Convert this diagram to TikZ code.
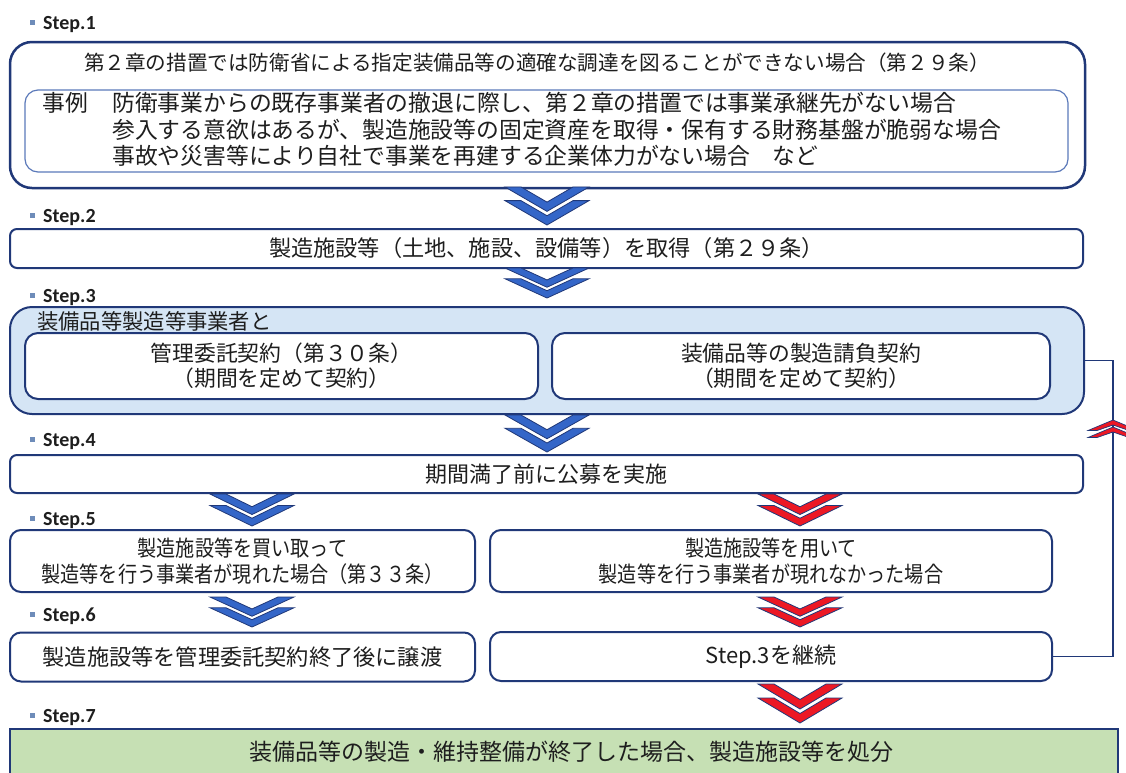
\documentclass[tikz,border=0pt]{standalone}
\usepackage{fontspec}
\newfontfamily\jp{Noto Sans CJK JP}
\newfontfamily\jpn[FakeStretch=0.87]{Noto Sans CJK JP}
\newfontfamily\lat{Carlito}
\definecolor{navy}{RGB}{32,56,120}
\definecolor{lblue}{RGB}{92,122,186}
\definecolor{chevblue}{RGB}{52,102,200}
\definecolor{chevred}{RGB}{236,24,36}
\definecolor{fillblue}{RGB}{213,229,245}
\definecolor{fillgreen}{RGB}{198,224,180}
\definecolor{txt}{RGB}{30,30,30}
\definecolor{bulletc}{RGB}{110,140,185}
\newcommand\fs[2]{\fontsize{#1}{#2}\selectfont}
\tikzset{
  box/.style={draw=navy, line width=2pt, fill=white, rounded corners=#1, inner sep=0pt, text=txt, align=center},
  lbl/.style={inner sep=0pt, text=txt},
  chevshape/.style={draw=navy, line width=0.8pt, fill=#1, line join=miter},
}
\newcommand\steplabel[2]{%
  \node[fill=bulletc, minimum size=5pt, inner sep=0pt] (b#1) at (32,#2-6.5) {};
  \node[anchor=base west, inner sep=0pt, text=txt, font=\lat\bfseries\fs{20}{24}] (l#1) at (43,#2) {Step.#1};}
% x, ytop, colour, total height
\newcommand\chev[4]{%
  \begin{scope}[shift={(#1,#2)}, yscale=#4/39]
    \foreach \dy in {14,0}{
      \path[chevshape=#3] (-42,\dy) -- (-26,\dy) -- (0,\dy+15.5) -- (26,\dy) -- (42,\dy) -- (0,\dy+25) -- cycle;}
  \end{scope}}
\begin{document}
\begin{tikzpicture}[x=1pt,y=-1pt]
\useasboundingbox (0,0) rectangle (1126,772);
\clip (0,0) rectangle (1126,772);
\fill[white] (0,0) rectangle (1126,772);

% step labels
\steplabel{1}{29}
\steplabel{2}{222}
\steplabel{3}{302}
\steplabel{4}{446}
\steplabel{5}{525}
\steplabel{6}{621}
\steplabel{7}{722}

% Step 1
\node[box=22, line width=2.5pt, minimum width=1075pt, minimum height=146pt] (s1) at (547.5,115) {};
\node[lbl, font=\jp\fs{20.6}{24}] (s1t) at (537,63) {第２章の措置では防衛省による指定装備品等の適確な調達を図ることができない場合（第２９条）};
\node[box=13, draw=lblue, line width=1.2pt, minimum width=1043pt, minimum height=82pt] (s1i) at (546.5,131) {};
\node[lbl, anchor=west, font=\jp\fs{22.8}{26}] (ex) at (42,103) {事例};
\node[lbl, anchor=west, font=\jp\fs{22.8}{26}] (ex1) at (112,103) {防衛事業からの既存事業者の撤退に際し、第２章の措置では事業承継先がない場合};
\node[lbl, anchor=west, font=\jp\fs{22.8}{26}] (ex2) at (112,130) {参入する意欲はあるが、製造施設等の固定資産を取得・保有する財務基盤が脆弱な場合};
\node[lbl, anchor=west, font=\jp\fs{22.8}{26}] (ex3) at (112,156) {事故や災害等により自社で事業を再建する企業体力がない場合　など};

% Step 2
\node[box=7, minimum width=1073pt, minimum height=39pt, font=\jp\fs{22.2}{26}] (s2) at (546.5,248.5) {製造施設等（土地、施設、設備等）を取得（第２９条）};

% Step 3
\node[box=22, fill=fillblue, minimum width=1074pt, minimum height=107pt] (s3) at (547,360.5) {};
\node[lbl, anchor=west, font=\jp\fs{21.3}{25}] (s3t) at (37,321) {装備品等製造等事業者と};
\node[box=13, minimum width=513pt, minimum height=66pt, font=\jp\fs{21.8}{25}] (s3a) at (281.5,366) {管理委託契約（第３０条）\\（期間を定めて契約）};
\node[box=13, minimum width=498pt, minimum height=66pt, font=\jp\fs{21.8}{25}] (s3b) at (801,366) {装備品等の製造請負契約\\（期間を定めて契約）};

% Step 4
\node[box=7, minimum width=1073pt, minimum height=38pt, font=\jp\fs{22}{26}] (s4) at (546.5,474) {期間満了前に公募を実施};

% Step 5
\node[box=11, minimum width=465pt, minimum height=62pt, font=\jpn\fs{22}{26}] (s5a) at (242.5,561) {製造施設等を買い取って\\製造等を行う事業者が現れた場合（第３３条）};
\node[box=11, minimum width=562pt, minimum height=62pt, font=\jpn\fs{22}{26}] (s5b) at (771,561) {製造施設等を用いて\\製造等を行う事業者が現れなかった場合};

% Step 6
\node[box=11, minimum width=465pt, minimum height=49pt, font=\jp\fs{22.2}{26}] (s6a) at (242.5,657) {製造施設等を管理委託契約終了後に譲渡};
\node[box=11, minimum width=562pt, minimum height=49pt, font=\jp\fs{22}{26}] (s6b) at (771,656.5) {Step.3を継続};

% Step 7
\node[draw=navy, line width=1.5pt, fill=fillgreen, minimum width=1108pt, minimum height=70pt, inner sep=0pt] (s7) at (564,764) {};
\node[lbl, font=\jp\fs{23}{27}] (s7t) at (571,752) {装備品等の製造・維持整備が終了した場合、製造施設等を処分};

% loop-back connector
\coordinate (rc) at (1113,360.5);
\draw[navy, line width=1.6pt] (s6b.east) -| (rc) -- (s3.east);
\begin{scope}[shift={(1113,420)}]
  \foreach \dy in {7,0}{
    \path[chevshape=chevred, line width=0.7pt] (0,\dy) -- (25,\dy+10.5) -- (16,\dy+10.5) -- (0,\dy+5) -- (-16,\dy+10.5) -- (-25,\dy+10.5) -- cycle;}
\end{scope}

% chevrons
\chev{547}{187}{chevblue}{38}
\chev{547}{268}{chevblue}{30}
\chev{547}{415}{chevblue}{37}
\chev{252}{494}{chevblue}{32}
\chev{800}{494}{chevred}{32}
\chev{252}{597}{chevblue}{30}
\chev{800}{597}{chevred}{30}
\chev{800}{684}{chevred}{39}
\end{tikzpicture}
\end{document}
